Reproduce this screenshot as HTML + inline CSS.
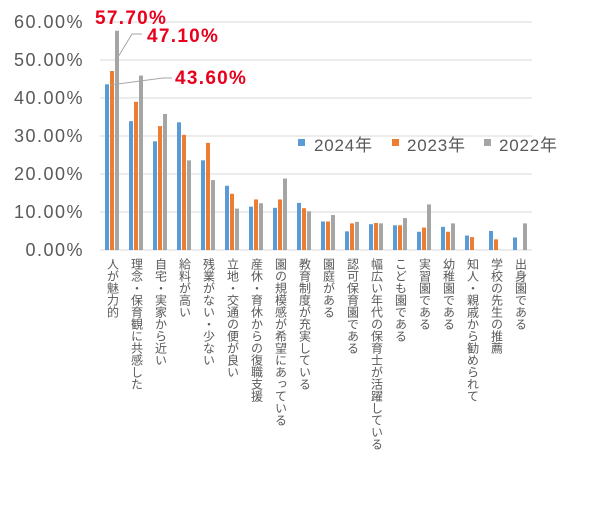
<!DOCTYPE html>
<html><head><meta charset="utf-8"><style>
body{margin:0;background:#fff;width:605px;height:511px;overflow:hidden;position:relative;font-family:"Liberation Sans","Noto Sans CJK JP",sans-serif}
.v{position:absolute;top:258px;writing-mode:vertical-rl;font-size:12px;line-height:13px;color:#595959;width:13px;white-space:nowrap}
</style></head><body>
<svg width="605" height="511" style="position:absolute;left:0;top:0" xmlns="http://www.w3.org/2000/svg" font-family="Liberation Sans, Noto Sans CJK JP, sans-serif">
<g stroke="#d9d9d9" stroke-width="1">
<line x1="100" x2="532" y1="22" y2="22"/><line x1="100" x2="532" y1="60" y2="60"/><line x1="100" x2="532" y1="98" y2="98"/><line x1="100" x2="532" y1="136" y2="136"/><line x1="100" x2="532" y1="174" y2="174"/><line x1="100" x2="532" y1="212" y2="212"/><line x1="100" x2="532" y1="250" y2="250"/>
</g>
<g fill="#595959" font-size="18" letter-spacing="1.5" text-anchor="end">
<text x="84" y="28">60.00%</text><text x="84" y="66">50.00%</text><text x="84" y="104">40.00%</text><text x="84" y="142">30.00%</text><text x="84" y="180">20.00%</text><text x="84" y="218">10.00%</text><text x="84" y="256">0.00%</text>
</g>
<g id="bars"></g>
<g stroke="#a6a6a6" stroke-width="1" fill="none">
<polyline points="110,85 163,78 172,78"/>
<polyline points="115,62 132,34 142,34"/>
</g>
<g fill="#e8001c" font-size="19" letter-spacing="1.3" font-weight="bold">
<text x="95" y="24">57.70%</text>
<text x="147" y="42">47.10%</text>
<text x="175" y="84">43.60%</text>
</g>
<g font-size="17" letter-spacing="0.8" fill="#595959">
<rect x="298" y="139" width="7" height="7" fill="#5b9bd5"/><text x="314" y="151">2024年</text>
<rect x="392" y="139" width="7" height="7" fill="#ed7d31"/><text x="407" y="151">2023年</text>
<rect x="484" y="139" width="7" height="7" fill="#a5a5a5"/><text x="499" y="151">2022年</text>
</g>
</svg>
<div id="labels"></div>
<script>
var d=[[43.6,47.1,57.7],[33.9,39,45.9],[28.6,32.6,35.8],[33.6,30.3,23.6],[23.6,28.2,18.4],[16.9,14.8,10.9],[11.4,13.3,12.3],[11.1,13.3,18.8],[12.4,11.0,10.2],[7.5,7.5,9.2],[4.9,7.0,7.4],[6.8,7.1,7.0],[6.5,6.5,8.4],[4.8,5.9,12.0],[6.1,4.8,7.0],[3.8,3.4,0],[5.0,2.8,0],[3.3,0,7.0]];
var L=["人が魅力的","理念・保育観に共感した","自宅・実家から近い","給料が高い","残業がない・少ない","立地・交通の便が良い","産休・育休からの復職支援","園の規模感が希望にあっている","教育制度が充実している","園庭がある","認可保育園である","幅広い年代の保育士が活躍している","こども園である","実習園である","幼稚園である","知人・親戚から勧められて","学校の先生の推薦","出身園である"];
var c=["#5b9bd5","#ed7d31","#a5a5a5"],s="",h="";
for(var i=0;i<18;i++){for(var j=0;j<3;j++){var v=d[i][j];if(!v)continue;var hh=v*3.8;s+='<rect x="'+(105+24*i+5*j)+'" y="'+(250-hh)+'" width="4" height="'+hh+'" fill="'+c[j]+'"/>';}
h+='<div class="v" style="left:'+(105.5+24*i)+'px">'+L[i]+'</div>';}
document.getElementById("bars").innerHTML=s;document.getElementById("labels").innerHTML=h;
</script>
</body></html>
